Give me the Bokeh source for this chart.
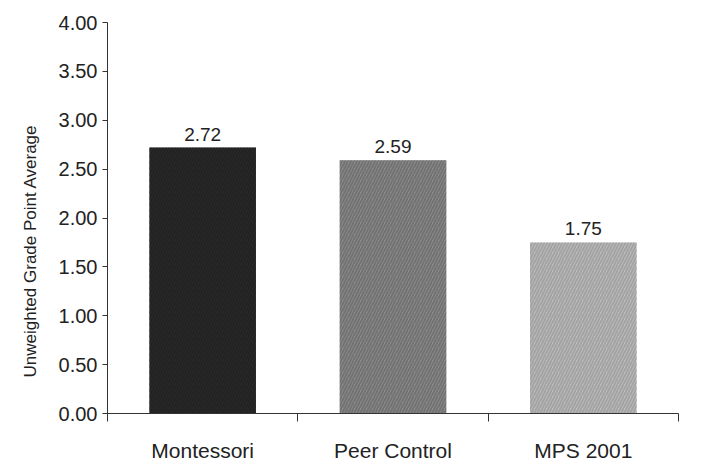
import numpy as np
from bokeh.plotting import figure
from bokeh.models import FixedTicker, Range1d, Title, ColumnDataSource, LabelSet
from bokeh.core.properties import value
from bokeh.embed import file_html
from bokeh.resources import INLINE

categories = ["Montessori", "Peer Control", "MPS 2001"]
gpa = [2.72, 2.59, 1.75]
value_labels = ["2.72", "2.59", "1.75"]
bar_colors = ["#2a2a2a", "#8e8e8e", "#c0c0c0"]
hatch_colors = ["#1c1c1c", "#5f5f5f", "#8f8f8f"]
y_ticks = [0.0, 0.5, 1.0, 1.5, 2.0, 2.5, 3.0, 3.5, 4.0]
y_axis_title = "Unweighted Grade Point Average"

FONT = "Liberation Sans"
TXT = "#222222"

idx = np.arange(len(categories))
centers = idx + 0.5

src = ColumnDataSource(dict(x=centers, top=gpa, label=value_labels,
                            color=bar_colors, hcolor=hatch_colors))

p = figure(width=707, height=471, output_backend="svg", toolbar_location=None,
           x_range=Range1d(0, len(categories)), y_range=Range1d(0, 4),
           min_border_left=107, min_border_right=29, min_border_top=22,
           min_border_bottom=58)
p.outline_line_color = None
p.grid.visible = False
p.background_fill_color = "white"

p.vbar(x="x", top="top", width=0.56, bottom=0, source=src,
       fill_color="color", line_color=None,
       hatch_pattern="/", hatch_color="hcolor", hatch_scale=6,
       hatch_weight=2, hatch_alpha=0.6)

labels = LabelSet(x="x", y="top", text="label", source=src, text_align="center",
                  text_baseline="alphabetic", y_offset=7,
                  text_font=value(FONT), text_font_size=value("19px"),
                  text_color=value(TXT))
p.add_layout(labels)

# y axis
ya = p.yaxis[0]
ya.ticker = FixedTicker(ticks=y_ticks, minor_ticks=[])
ya.major_label_overrides = {t: f"{t:.2f}" for t in y_ticks}
ya.major_label_text_font = FONT
ya.major_label_text_font_size = "20px"
ya.major_label_text_color = TXT
ya.major_tick_in = 0
ya.major_tick_out = 5
ya.minor_tick_out = 0
ya.minor_tick_in = 0
ya.major_label_standoff = 5
ya.axis_line_color = "#333333"
ya.major_tick_line_color = "#333333"

# x axis
xa = p.xaxis[0]
xa.ticker = FixedTicker(ticks=list(centers), minor_ticks=list(np.arange(len(categories) + 1)))
xa.major_label_overrides = {float(c): n for c, n in zip(centers, categories)}
xa.major_label_text_font = FONT
xa.major_label_text_font_size = "21px"
xa.major_label_text_color = TXT
xa.major_tick_in = 0
xa.major_tick_out = 0
xa.minor_tick_in = 0
xa.minor_tick_out = 8
xa.major_label_standoff = 17
xa.axis_line_color = "#333333"
xa.minor_tick_line_color = "#333333"

ytitle = Title(text=y_axis_title, align="left", offset=36, standoff=30,
               vertical_align="middle",
               text_font=FONT, text_font_size="17px", text_font_style="normal",
               text_color=TXT)
p.add_layout(ytitle, "left")

open("out.html", "w").write(file_html(p, INLINE))
